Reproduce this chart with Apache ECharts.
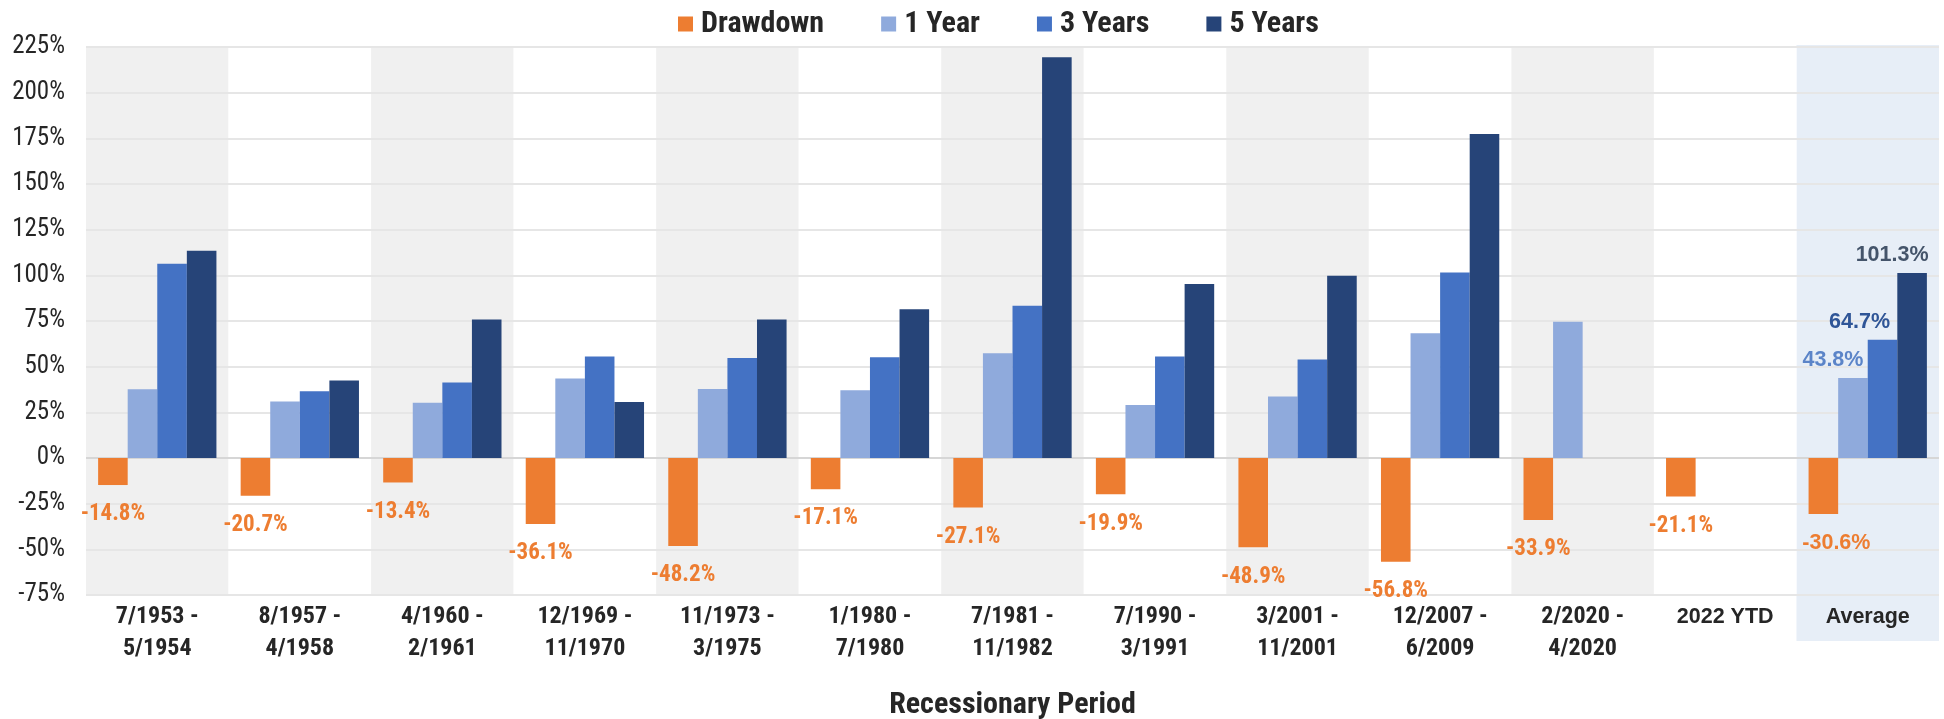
<!DOCTYPE html>
<html>
<head>
<meta charset="utf-8">
<script src="https://cdn.jsdelivr.net/npm/echarts@6/dist/echarts.min.js"></script>
<style>
  html, body { margin: 0; padding: 0; background: #ffffff; overflow: hidden; }
  #chart { width: 1944px; height: 719px; }
</style>
</head>
<body>
<div id="chart"></div>
<script>
const categories = ['7/1953 - 5/1954', '8/1957 - 4/1958', '4/1960 - 2/1961', '12/1969 - 11/1970',
  '11/1973 - 3/1975', '1/1980 - 7/1980', '7/1981 - 11/1982', '7/1990 - 3/1991',
  '3/2001 - 11/2001', '12/2007 - 6/2009', '2/2020 - 4/2020', '2022 YTD', 'Average'];
const seriesNames = ['Drawdown', '1 Year', '3 Years', '5 Years'];
const drawdown   = [-14.8, -20.7, -13.4, -36.1, -48.2, -17.1, -27.1, -19.9, -48.9, -56.8, -33.9, -21.1, -30.6];
const oneYear    = [37.6, 30.9, 30.3, 43.5, 37.8, 37.1, 57.3, 29.0, 33.6, 68.3, 74.6, null, 43.8];
const threeYears = [106.4, 36.5, 41.3, 55.5, 54.7, 55.1, 83.4, 55.5, 53.9, 101.6, null, null, 64.7];
const fiveYears  = [113.5, 42.4, 75.8, 30.7, 75.8, 81.4, 219.4, 95.3, 99.8, 177.4, null, null, 101.3];
const yMin = -75, yMax = 225, yStep = 25;
const xAxisTitle = 'Recessionary Period';

const colors = ['#ED7D31', '#8FAADC', '#4472C4', '#264478'];
const avgLabelColors = ['#ED7D31', '#5B84C8', '#2F5597', '#44546A'];
const NARROW = "'Roboto Condensed', sans-serif";
const WIDE = "'Liberation Sans', Arial, sans-serif";
const lastIdx = categories.length - 1;

function fmt(v) { return v.toFixed(1) + '%'; }

function buildData(values, sIdx) {
  return values.map((v, i) => {
    if (i === lastIdx && v != null) {
      return {
        value: v,
        label: {
          show: true,
          position: sIdx === 0 ? 'bottom' : 'top',
          distance: sIdx === 0 ? 18 : 7,
          offset: sIdx === 0 ? [13, 0] : [sIdx === 2 ? -23 : -20, 0],
          fontFamily: WIDE, fontWeight: 'bold', fontSize: 21.5,
          color: avgLabelColors[sIdx],
          formatter: (p) => fmt(p.value)
        }
      };
    }
    return v;
  });
}

// split area colors: alternate grey/white, the Average band is drawn separately
const bandColors = categories.map((c, i) => i === lastIdx ? 'rgba(0,0,0,0)' : (i % 2 === 0 ? '#F0F0F0' : '#FFFFFF'));
const nTicks = Math.round((yMax - yMin) / yStep) + 1;
const gridLineColors = [];
for (let k = 0; k < nTicks; k++) {
  gridLineColors.push(yMin + k * yStep === 0 ? '#D6D6D6' : '#E6E6E6');
}

const chart = echarts.init(document.getElementById('chart'), null, { renderer: 'canvas' });

const series = [drawdown, oneYear, threeYears, fiveYears].map((vals, sIdx) => ({
  name: seriesNames[sIdx],
  type: 'bar',
  z: 3,
  barGap: '0%',
  barCategoryGap: '17%',
  itemStyle: { color: colors[sIdx] },
  label: sIdx === 0 ? {
    show: true,
    position: 'bottom',
    distance: 18,
    fontFamily: NARROW, fontWeight: 'bold', fontSize: 23,
    color: '#ED7D31',
    formatter: (p) => fmt(p.value)
  } : { show: false },
  data: buildData(vals, sIdx)
}));

chart.setOption({
  animation: false,
  backgroundColor: '#ffffff',
  color: colors,
  legend: {
    data: seriesNames,
    left: 673,
    top: 4,
    icon: 'rect',
    itemWidth: 15,
    itemHeight: 15,
    itemGap: 57,
    textStyle: { fontFamily: NARROW, fontWeight: 'bold', fontSize: 30, color: '#262626', padding: [0, 0, 0, 3] }
  },
  grid: { left: 86, right: 5, top: 47, bottom: 124, containLabel: false, outerBoundsMode: 'none' },
  xAxis: {
    type: 'category',
    data: categories,
    z: 1,
    axisLine: { show: false, onZero: false },
    axisTick: { show: false },
    splitLine: { show: false },
    splitArea: { show: true, areaStyle: { color: bandColors } },
    axisLabel: {
      interval: 0,
      margin: 6,
      fontFamily: NARROW, fontWeight: 'bold', fontSize: 24, color: '#262626',
      lineHeight: 32,
      formatter: (val) => {
        if (val.indexOf(' - ') >= 0) {
          const parts = val.split(' - ');
          return parts[0] + ' -\n' + parts[1];
        }
        return '{w|' + val + '}';
      },
      rich: {
        w: { fontFamily: WIDE, fontWeight: 'bold', fontSize: 21.5, color: '#262626', lineHeight: 32 }
      }
    },
    name: xAxisTitle,
    nameLocation: 'middle',
    nameGap: 95,
    nameTextStyle: { fontFamily: NARROW, fontWeight: 'bold', fontSize: 30, color: '#262626' }
  },
  yAxis: {
    type: 'value',
    min: yMin, max: yMax, interval: yStep,
    z: 2,
    axisLine: { show: false },
    axisTick: { show: false },
    axisLabel: {
      margin: 21,
      fontFamily: NARROW, fontSize: 25, color: '#262626',
      formatter: (v) => v + '%'
    },
    splitLine: { show: true, lineStyle: { color: gridLineColors, width: 2 } }
  },
  series: series
});

// Average highlight band (positions derived from the axes)
function drawAverageBand() {
  const cAvg = chart.convertToPixel({ xAxisIndex: 0 }, categories[lastIdx]);
  const cPrev = chart.convertToPixel({ xAxisIndex: 0 }, categories[lastIdx - 1]);
  const bw = cAvg - cPrev;
  const yTop = chart.convertToPixel({ yAxisIndex: 0 }, yMax);
  const yBot = chart.convertToPixel({ yAxisIndex: 0 }, yMin);
  chart.setOption({
    graphic: [{
      type: 'rect',
      z: 0,
      silent: true,
      shape: { x: cAvg - bw / 2, y: yTop - 2, width: bw, height: (yBot - yTop) + 48 },
      style: { fill: '#E7EEF7' }
    }]
  });
}
drawAverageBand();
</script>
</body>
</html>
